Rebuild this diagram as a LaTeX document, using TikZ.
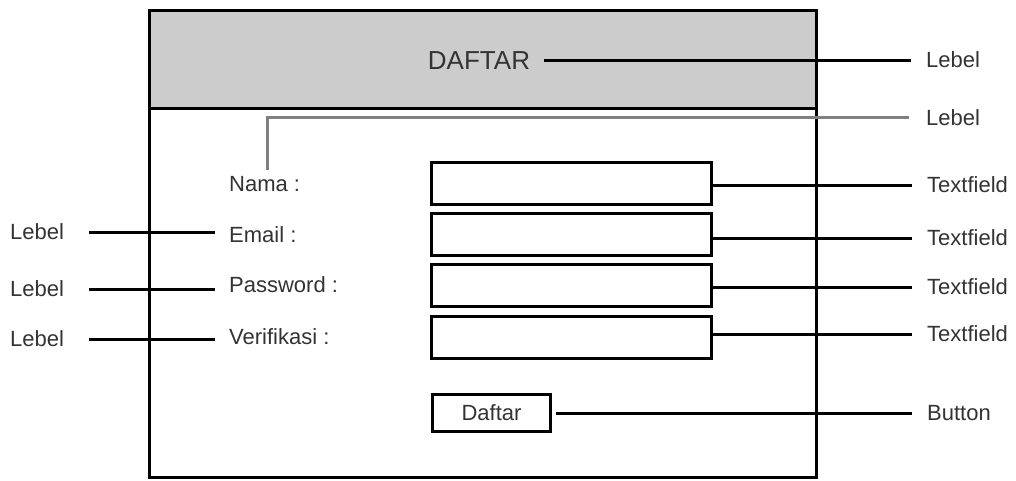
\documentclass[tikz,border=0pt]{standalone}
\usepackage{fontspec}
\setmainfont{Liberation Sans}
\definecolor{ink}{HTML}{333333}
\definecolor{headfill}{HTML}{CCCCCC}
\definecolor{leadgray}{HTML}{808080}
\begin{document}
\begin{tikzpicture}[x=1pt,y=-1pt,
  lbl/.style={font=\fontsize{22}{26}\selectfont, text=ink, inner sep=0pt,
              text height=15.5pt, text depth=0pt, anchor=west},
  title/.style={font=\fontsize{26}{31}\selectfont, text=ink, inner sep=0pt,
              text height=18.5pt, text depth=0pt},
  field/.style={draw=black, line width=3pt, minimum width=280pt,
                minimum height=42pt, inner sep=0pt, anchor=north west},
  btn/.style={draw=black, line width=3pt, minimum width=118pt,
              minimum height=37pt, inner sep=0pt, anchor=north west,
              font=\fontsize{22}{26}\selectfont, text=ink},
  lead/.style={draw=black, line width=3pt},
  leadgr/.style={draw=leadgray, line width=3pt}]
\useasboundingbox (0,0) rectangle (1016,480);

% window frame with grey title bar
\fill[headfill] (149,10) rectangle (816,108);
\draw[line width=3pt] (149,10) rectangle (816,108);
\draw[line width=3pt] (149,108) rectangle (816,477);

% title and form labels
\node[title] (ttl) at (479,60) {DAFTAR};
\node[lbl] (nama) at (229,184) {Nama :};
\node[lbl] (email) at (229,235) {Email :};
\node[lbl] (pass) at (229,285) {Password :};
\node[lbl] (verif) at (229,337) {Verifikasi :};

% text fields and button
\node[field] (f1) at (430,161) {};
\node[field] (f2) at (430,212) {};
\node[field] (f3) at (430,263) {};
\node[field] (f4) at (430,315) {};
\node[btn] (bt) at (431,393) {Daftar};

% annotations, right side
\node[lbl] (rl1) at (926,60) {Lebel};
\node[lbl] (rl2) at (926,118) {Lebel};
\node[lbl] (rt1) at (927,185) {Textfield};
\node[lbl] (rt2) at (927,238) {Textfield};
\node[lbl] (rt3) at (927,287) {Textfield};
\node[lbl] (rt4) at (927,334) {Textfield};
\node[lbl] (rb) at (927,413) {Button};

% annotations, left side
\node[lbl] (ll1) at (10,232) {Lebel};
\node[lbl] (ll2) at (10,289) {Lebel};
\node[lbl] (ll3) at (10,339) {Lebel};

% leader lines
\draw[lead, shorten <=14pt, shorten >=15pt] (ttl.east |- rl1.west) -- (rl1.west);
\draw[leadgr, shorten >=17pt] ([yshift=6pt]nama.north -| 267,0) -- (267,117) -- (rl2.west |- 0,117);
\draw[lead, shorten >=15pt] (rt1.west -| f1.east) -- (rt1.west);
\draw[lead, shorten >=15pt] (rt2.west -| f2.east) -- (rt2.west);
\draw[lead, shorten >=15pt] (rt3.west -| f3.east) -- (rt3.west);
\draw[lead, shorten >=15pt] (rt4.west -| f4.east) -- (rt4.west);
\draw[lead, shorten <=4pt, shorten >=15pt] (rb.west -| bt.east) -- (rb.west);
\draw[lead, shorten <=25pt, shorten >=14pt] (ll1.east) -- (ll1.east -| email.west);
\draw[lead, shorten <=25pt, shorten >=14pt] (ll2.east) -- (ll2.east -| pass.west);
\draw[lead, shorten <=25pt, shorten >=14pt] (ll3.east) -- (ll3.east -| verif.west);
\end{tikzpicture}
\end{document}
